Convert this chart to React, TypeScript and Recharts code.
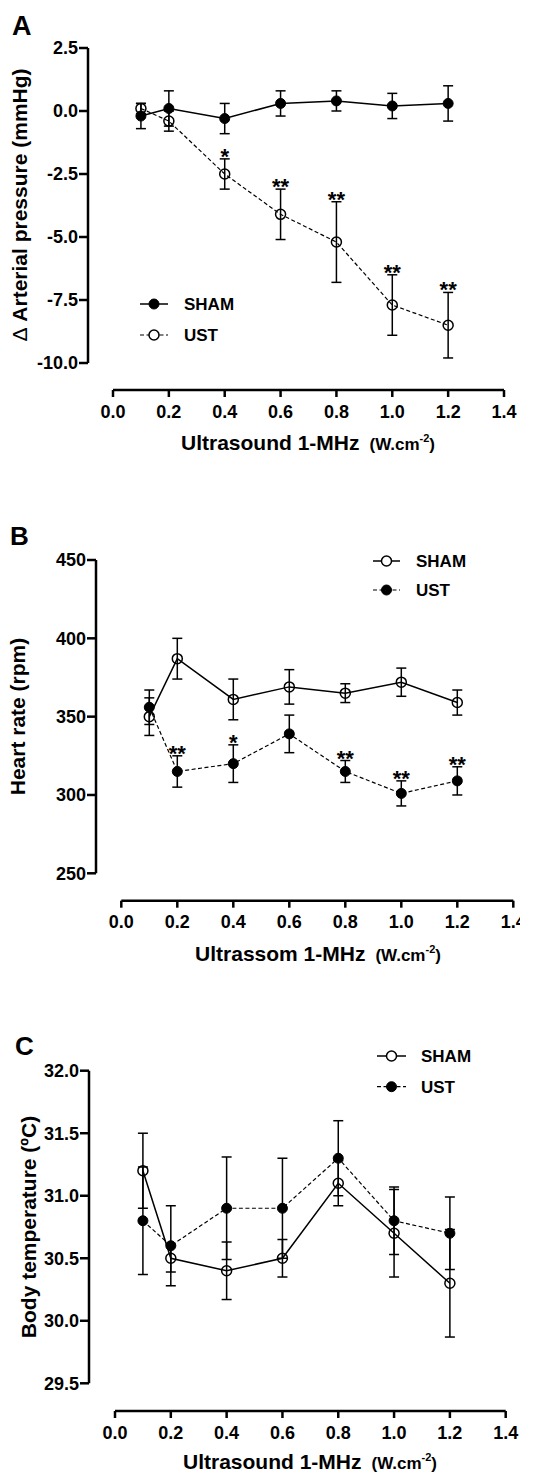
import React from 'react';
import { LineChart, Line, XAxis, YAxis, ErrorBar, Legend, LabelList, Label } from 'recharts';

const FONT = '"Liberation Sans", Arial, Helvetica, sans-serif';
const INK = '#000';
const DASH = '4 2.5';

// shared x values (W.cm-2)
const doses = [0.1, 0.2, 0.4, 0.6, 0.8, 1.0, 1.2];
const xTicks = [0, 0.2, 0.4, 0.6, 0.8, 1.0, 1.2, 1.4];

// Panel A: delta arterial pressure (mmHg)
const shamA = [-0.2, 0.1, -0.3, 0.3, 0.4, 0.2, 0.3];
const shamErrA = [0.5, 0.7, 0.6, 0.5, 0.4, 0.5, 0.7];
const ustA = [0.1, -0.4, -2.5, -4.1, -5.2, -7.7, -8.5];
const ustErrA = [0.2, 0.4, 0.6, 1.0, 1.6, 1.2, 1.3];
const sigA = ['', '', '*', '**', '**', '**', '**'];
const yTicksA = [-10, -7.5, -5, -2.5, 0, 2.5];

// Panel B: heart rate (rpm)
const shamB = [350, 387, 361, 369, 365, 372, 359];
const shamErrB = [12, 13, 13, 11, 6, 9, 8];
const ustB = [356, 315, 320, 339, 315, 301, 309];
const ustErrB = [11, 10, 12, 12, 7, 8, 9];
const sigB = ['', '**', '*', '', '**', '**', '**'];
const yTicksB = [250, 300, 350, 400, 450];

// Panel C: body temperature (ºC)
const shamC = [31.2, 30.5, 30.4, 30.5, 31.1, 30.7, 30.3];
const shamErrC = [0.3, 0.11, 0.23, 0.15, 0.18, 0.35, 0.43];
const ustC = [30.8, 30.6, 30.9, 30.9, 31.3, 30.8, 30.7];
const ustErrC = [0.43, 0.32, 0.41, 0.4, 0.3, 0.27, 0.29];
const sigC = ['', '', '', '', '', '', ''];
const yTicksC = [29.5, 30.0, 30.5, 31.0, 31.5, 32.0];

const buildRows = (sham: number[], shamErr: number[], ust: number[], ustErr: number[], sig: string[]) =>
  doses.map((x, i) => ({
    x,
    sham: sham[i],
    shamErr: shamErr[i],
    ust: ust[i],
    ustErr: ustErr[i],
    ustTop: ust[i] + ustErr[i],
    sig: sig[i],
  }));

const dataA = buildRows(shamA, shamErrA, ustA, ustErrA, sigA);
const dataB = buildRows(shamB, shamErrB, ustB, ustErrB, sigB);
const dataC = buildRows(shamC, shamErrC, ustC, ustErrC, sigC);

const filledDot = { r: 5, fill: INK, stroke: INK, strokeWidth: 1, strokeDasharray: 'none' };
const openDot = { r: 5, fill: 'none', stroke: INK, strokeWidth: 1.5, strokeDasharray: 'none' };

function StarLabel(props: any) {
  const x = props.x ?? props.viewBox?.x;
  const y = props.y ?? props.viewBox?.y;
  const value = props.value;
  if (!value) return null;
  return (
    <text x={x} y={y + 5} textAnchor="middle" fontSize={22} fontWeight={700} fontFamily={FONT} fill={INK}>
      {value}
    </text>
  );
}

type LegendCfg = { left: number; top: number; gap: number; lineLen: number; textGap: number };

function LegendBox({ cfg, shamFilled }: { cfg: LegendCfg; shamFilled: boolean }) {
  const items = [
    { label: 'SHAM', filled: shamFilled, dashed: false },
    { label: 'UST', filled: !shamFilled, dashed: true },
  ];
  return (
    <svg width={160} height={70} style={{ display: 'block', overflow: 'visible' }}>
      {items.map((it, i) => {
        const cy = 12 + i * cfg.gap;
        return (
          <g key={it.label}>
            <line
              x1={0}
              y1={cy}
              x2={cfg.lineLen}
              y2={cy}
              stroke={INK}
              strokeWidth={it.dashed ? 1.2 : 1.5}
              strokeDasharray={it.dashed ? DASH : undefined}
            />
            <circle
              cx={cfg.lineLen / 2}
              cy={cy}
              r={5}
              fill={it.filled ? INK : '#fff'}
              stroke={INK}
              strokeWidth={it.filled ? 1 : 1.5}
            />
            <text
              x={cfg.lineLen + cfg.textGap}
              y={cy}
              dy="0.36em"
              fontSize={17}
              fontWeight={700}
              fontFamily={FONT}
              fill={INK}
            >
              {it.label}
            </text>
          </g>
        );
      })}
    </svg>
  );
}

type PanelProps = {
  top: number;
  width: number;
  height: number;
  margin: { top: number; right: number; bottom: number; left: number };
  yAxisWidth: number;
  xAxisHeight: number;
  padLeft: number;
  padBottom: number;
  data: any[];
  yDomain: [number, number];
  yTicks: number[];
  yFmt: (v: number) => string;
  shamFilled: boolean;
  yTitle: React.ReactNode;
  yTitlePos: { x: number; y: number };
  xTitle: string;
  xTitlePos: { x: number; y: number };
  legend: LegendCfg;
};

function Panel(p: PanelProps) {
  const plotH = p.height - p.margin.top - p.margin.bottom - p.xAxisHeight;
  const tickStyle = { fill: INK, fontSize: 18, fontWeight: 700, fontFamily: FONT };
  const shamDot = p.shamFilled ? filledDot : openDot;
  const ustDot = p.shamFilled ? openDot : filledDot;
  return (
    <div style={{ position: 'absolute', left: 0, top: p.top }}>
      <LineChart width={p.width} height={p.height} margin={p.margin} data={p.data}>
        <XAxis
          dataKey="x"
          type="number"
          domain={[0, 1.4]}
          ticks={xTicks}
          interval={0}
          allowDataOverflow
          tickFormatter={(v: number) => v.toFixed(1)}
          padding={{ left: p.padLeft, right: 0 }}
          height={p.xAxisHeight}
          tickSize={7}
          tickMargin={8}
          tick={tickStyle}
          tickLine={{ stroke: INK, strokeWidth: 2.5 }}
          axisLine={{ stroke: INK, strokeWidth: 2.5, strokeDasharray: `0 ${p.padLeft} 9999` }}
        >
          <Label
            content={() => (
              <text
                x={p.xTitlePos.x}
                y={p.xTitlePos.y}
                textAnchor="middle"
                fontSize={21}
                fontWeight={700}
                fontFamily={FONT}
                fill={INK}
              >
                {p.xTitle}
                <tspan fontSize={17} dx={10}>(W.cm</tspan>
                <tspan fontSize={11} dy={-8}>-2</tspan>
                <tspan fontSize={17} dy={8}>)</tspan>
              </text>
            )}
          />
        </XAxis>
        <YAxis
          type="number"
          domain={p.yDomain}
          ticks={p.yTicks}
          interval={0}
          allowDataOverflow
          tickFormatter={p.yFmt}
          padding={{ top: 0, bottom: p.padBottom }}
          width={p.yAxisWidth}
          tickSize={9}
          tickMargin={1}
          tick={tickStyle}
          tickLine={{ stroke: INK, strokeWidth: 2.5 }}
          axisLine={{ stroke: INK, strokeWidth: 2.5, strokeDasharray: `${plotH - p.padBottom} 9999` }}
        >
          <Label
            content={() => (
              <text
                x={p.yTitlePos.x}
                y={p.yTitlePos.y}
                transform={`rotate(-90 ${p.yTitlePos.x} ${p.yTitlePos.y})`}
                textAnchor="middle"
                dominantBaseline="central"
                fontSize={21}
                fontWeight={700}
                fontFamily={FONT}
                fill={INK}
              >
                {p.yTitle}
              </text>
            )}
          />
        </YAxis>
        <Legend
          layout="horizontal"
          align="center"
          verticalAlign="middle"
          wrapperStyle={{ left: p.legend.left, top: p.legend.top, width: 160, height: 70 }}
          content={() => <LegendBox cfg={p.legend} shamFilled={p.shamFilled} />}
        />
        <Line
          dataKey="sham"
          name="SHAM"
          type="linear"
          stroke={INK}
          strokeWidth={1.5}
          dot={shamDot}
          activeDot={false}
          isAnimationActive={false}
        >
          <ErrorBar dataKey="shamErr" direction="y" width={5} stroke={INK} strokeWidth={1.5} isAnimationActive={false} />
        </Line>
        <Line
          dataKey="ust"
          name="UST"
          type="linear"
          stroke={INK}
          strokeWidth={1.2}
          strokeDasharray={DASH}
          dot={ustDot}
          activeDot={false}
          isAnimationActive={false}
        >
          <ErrorBar dataKey="ustErr" direction="y" width={5} stroke={INK} strokeWidth={1.5} isAnimationActive={false} />
        </Line>
        <Line
          dataKey="ustTop"
          legendType="none"
          stroke="none"
          dot={false}
          activeDot={false}
          isAnimationActive={false}
        >
          <LabelList dataKey="sig" content={StarLabel} />
        </Line>
      </LineChart>
    </div>
  );
}

export default function App() {
  return (
    <div
      style={{
        position: 'absolute',
        left: 0,
        top: 0,
        width: 533,
        height: 1473,
        background: '#fff',
        overflow: 'hidden',
      }}
    >
      <Panel
        top={0}
        width={533}
        height={480}
        margin={{ top: 48, right: 29, bottom: 30, left: 8 }}
        yAxisWidth={80}
        xAxisHeight={60}
        padLeft={25}
        padBottom={27}
        data={dataA}
        yDomain={[-10, 2.5]}
        yTicks={yTicksA}
        yFmt={(v) => v.toFixed(1)}
        shamFilled={true}
        yTitle={
          <>
            <tspan fontWeight={400}>Δ</tspan>
            <tspan> Arterial pressure (mmHg)</tspan>
          </>
        }
        yTitlePos={{ x: 18.5, y: 205 }}
        xTitle="Ultrasound 1-MHz"
        xTitlePos={{ x: 308, y: 450 }}
        legend={{ left: 140, top: 292, gap: 31, lineLen: 28, textGap: 16 }}
      />
      <Panel
        top={480}
        width={520}
        height={490}
        margin={{ top: 80, right: 6.7, bottom: 9.3, left: 16 }}
        yAxisWidth={80}
        xAxisHeight={60}
        padLeft={25.3}
        padBottom={27.4}
        data={dataB}
        yDomain={[250, 450]}
        yTicks={yTicksB}
        yFmt={(v) => String(v)}
        shamFilled={false}
        yTitle="Heart rate (rpm)"
        yTitlePos={{ x: 17.5, y: 236.5 }}
        xTitle="Ultrassom 1-MHz"
        xTitlePos={{ x: 318, y: 480.7 }}
        legend={{ left: 373, top: 69, gap: 29, lineLen: 27, textGap: 16 }}
      />
      <Panel
        top={970}
        width={533}
        height={503}
        margin={{ top: 100.7, right: 27.3, bottom: 7, left: 9 }}
        yAxisWidth={80}
        xAxisHeight={55}
        padLeft={26}
        padBottom={27.7}
        data={dataC}
        yDomain={[29.5, 32]}
        yTicks={yTicksC}
        yFmt={(v) => v.toFixed(1)}
        shamFilled={false}
        yTitle="Body temperature (ºC)"
        yTitlePos={{ x: 28.5, y: 257 }}
        xTitle="Ultrasound 1-MHz"
        xTitlePos={{ x: 310, y: 498.5 }}
        legend={{ left: 377, top: 74, gap: 30.7, lineLen: 29, textGap: 15 }}
      />
      <svg
        width={533}
        height={1473}
        style={{ position: 'absolute', left: 0, top: 0, pointerEvents: 'none' }}
      >
        <text x={12} y={35} fontSize={27} fontWeight={700} fontFamily={FONT} fill={INK}>A</text>
        <text x={10} y={545} fontSize={26} fontWeight={700} fontFamily={FONT} fill={INK}>B</text>
        <text x={15} y={1055} fontSize={26} fontWeight={700} fontFamily={FONT} fill={INK}>C</text>
      </svg>
    </div>
  );
}
